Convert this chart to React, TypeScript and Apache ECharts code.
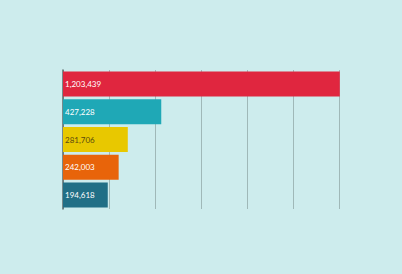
import React, { useEffect, useRef } from "react";
import * as echarts from "echarts";

const categories = ["A", "B", "C", "D", "E"];
const values = [1203439, 427228, 281706, 242003, 194618];
const barColors = ["#e0263f", "#1fa8b6", "#e8c800", "#e8640a", "#216f86"];
const labelColors = ["#ffffff", "#ffffff", "#5a4a10", "#ffffff", "#ffffff"];

export default function App() {
  const ref = useRef<HTMLDivElement>(null);
  useEffect(() => {
    const chart = echarts.init(ref.current!, null, { renderer: "svg" });
    chart.setOption({
      animation: false,
      backgroundColor: "#cdeced",
      grid: { left: 63, right: 63, top: 70, bottom: 65 },
      xAxis: {
        type: "value",
        min: 0,
        max: 1200000,
        interval: 200000,
        axisLabel: { show: false },
        axisLine: { show: false },
        axisTick: { show: false },
        splitLine: { show: true, lineStyle: { color: "#9fb8b8", width: 1 } },
      },
      yAxis: {
        type: "category",
        inverse: true,
        data: categories,
        axisLabel: { show: false },
        axisTick: { show: false },
        axisLine: { show: true, lineStyle: { color: "#5a6a6a", width: 1.5 } },
      },
      series: [
        {
          type: "bar",
          barCategoryGap: "10%",
          clip: false,
          data: values.map((v, i) => ({
            value: v,
            itemStyle: { color: barColors[i] },
            label: { color: labelColors[i] },
          })),
          label: {
            show: true,
            position: "insideLeft",
            distance: 2,
            fontFamily: "Lato",
            fontSize: 8,
            formatter: (p: any) => p.value.toLocaleString("en-US"),
          },
        },
      ],
    });
    return () => chart.dispose();
  }, []);
  return <div ref={ref} style={{ width: 402, height: 274, position: "absolute", left: 0, top: 0 }} />;
}
